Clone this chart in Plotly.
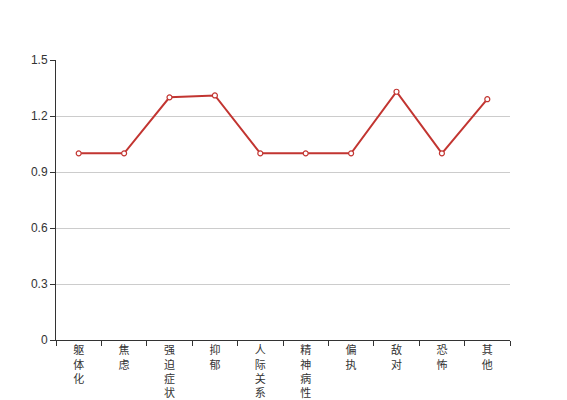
import plotly.graph_objects as go

categories = ["躯体化", "焦虑", "强迫症状", "抑郁", "人际关系敏感", "精神病性", "偏执", "敌对", "恐怖", "其他"]
values = [1.0, 1.0, 1.3, 1.31, 1.0, 1.0, 1.0, 1.33, 1.0, 1.29]
y_ticks = [0, 0.3, 0.6, 0.9, 1.2, 1.5]
y_tick_labels = ["0", "0.3", "0.6", "0.9", "1.2", "1.5"]

tick_text = ["<br>".join(list(c)) for c in categories]

fig = go.Figure()
fig.add_trace(go.Scatter(
    x=categories, y=values, mode="lines+markers",
    line=dict(color="#c23531", width=2),
    marker=dict(symbol="circle", size=5, color="white",
                line=dict(color="#c23531", width=1.2)),
    cliponaxis=False,
))
fig.update_layout(
    width=567, height=400,
    margin=dict(l=48, r=65, t=52, b=68),
    paper_bgcolor="white", plot_bgcolor="white",
    showlegend=False,
    font=dict(family="Liberation Sans, Noto Sans CJK SC, sans-serif", size=12, color="#333"),
)
fig.update_xaxes(
    type="category", tickvals=categories, ticktext=tick_text,
    tickson="boundaries", ticks="outside", ticklen=5, tickcolor="#333",
    showline=True, linecolor="#333", linewidth=1, showgrid=False,
    tickfont=dict(size=11, color="#333"), tickangle=0,
    range=[-0.5, 9.5], automargin=False,
)
fig.update_yaxes(
    range=[0, 1.5], tickvals=y_ticks, ticktext=y_tick_labels,
    ticks="outside", ticklen=5, tickcolor="#333",
    showline=True, linecolor="#333", linewidth=1,
    showgrid=True, gridcolor="#ccc", gridwidth=1, zeroline=False,
    tickfont=dict(size=12, color="#333"), automargin=False,
)
fig.write_html("out.html")
